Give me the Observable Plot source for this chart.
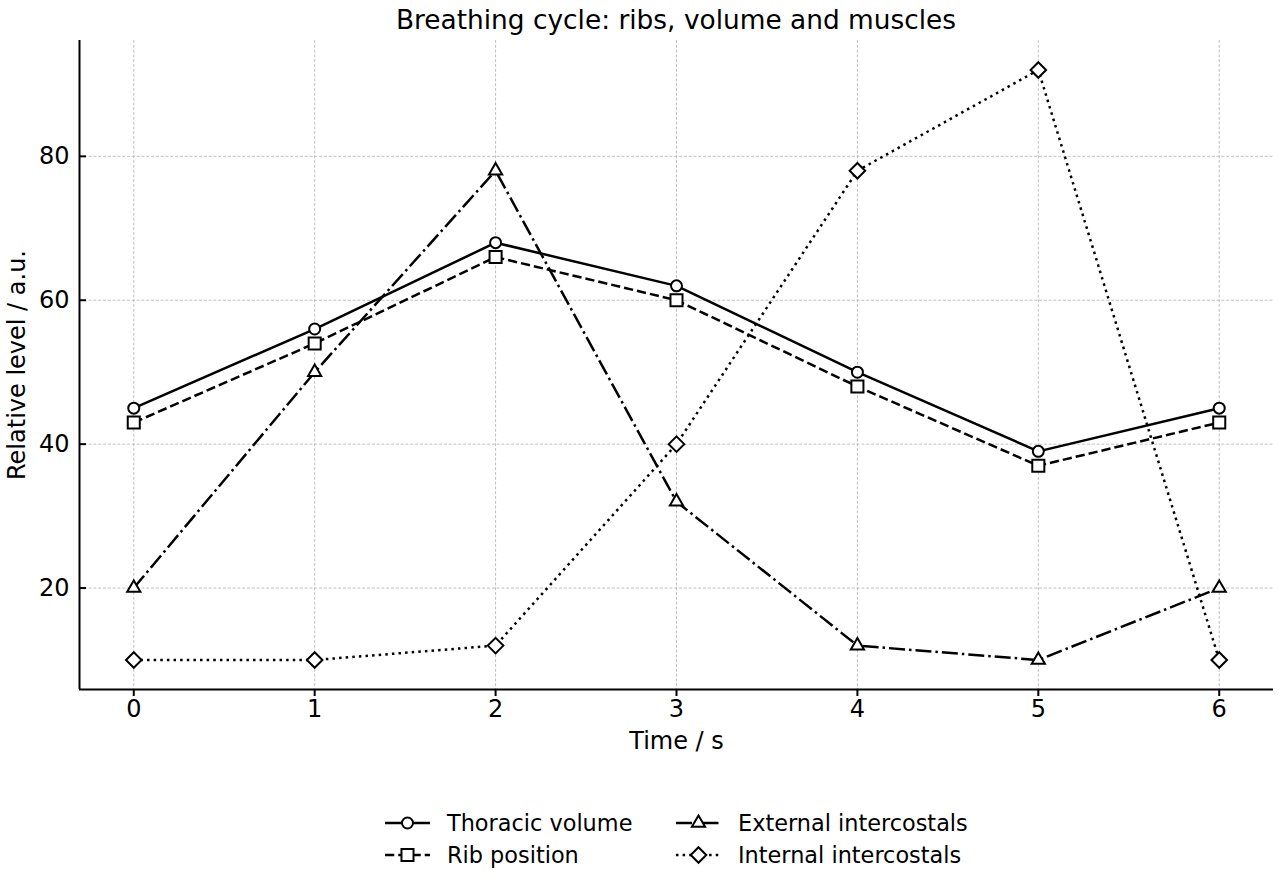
<!DOCTYPE html>
<html>
<head>
<meta charset="utf-8">
<script src="https://cdn.jsdelivr.net/npm/d3@7"></script>
<script src="https://cdn.jsdelivr.net/npm/@observablehq/plot@0.6"></script>
<style>
  body { margin: 0; background: #fff; font-family: "DejaVu Sans", sans-serif; color: #000; }
  #title { position: relative; width: 1280px; height: 40px; }
  #title span { position: absolute; left: 676px; top: 19px; transform: translate(-50%, -50%);
                font-size: 26.4px; white-space: nowrap; }
  #legend svg { display: block; }
</style>
</head>
<body>
<div id="title"><span>Breathing cycle: ribs, volume and muscles</span></div>
<div id="chart"></div>
<div id="legend"></div>
<script>
// Sampled breathing cycle, relative levels over time
const time = [0, 1, 2, 3, 4, 5, 6];
const thoracicVolume = [45, 56, 68, 62, 50, 39, 45];
const ribPosition = [43, 54, 66, 60, 48, 37, 43];
const externalIntercostals = [20, 50, 78, 32, 12, 10, 20];
const internalIntercostals = [10, 10, 12, 40, 78, 92, 10];

const seriesNames = ["Thoracic volume", "Rib position", "External intercostals", "Internal intercostals"];
const xTicks = [0, 1, 2, 3, 4, 5, 6];
const yTicks = [20, 40, 60, 80];
const xLabel = "Time / s";
const yLabel = "Relative level / a.u.";

// Line and marker style for each series
const LW = 2.5;
const styles = [
  {dash: null, symbol: "circle", r: 5.5},
  {dash: [3.7, 1.6].map(d => d * LW).join(","), symbol: "square", r: 6.8},
  {dash: [6.4, 1.6, 1, 1.6].map(d => d * LW).join(","), symbol: "triangle", r: 4.9},
  {dash: [1, 1.65].map(d => d * LW).join(","), symbol: "diamond2", r: 7.0}
];

const valuesBySeries = [thoracicVolume, ribPosition, externalIntercostals, internalIntercostals];
const rows = seriesNames.map((name, i) => time.map((t, j) => ({series: name, t, v: valuesBySeries[i][j]})));

// Axis domains with a 5% margin around the data
const allValues = valuesBySeries.flat();
const yMin = d3.min(allValues), yMax = d3.max(allValues);
const yPad = (yMax - yMin) * 0.05;
const yDomain = [yMin - yPad, yMax + yPad];
const xPad = (d3.max(time) - d3.min(time)) * 0.05;
const xDomain = [d3.min(time) - xPad, d3.max(time) + xPad];

const gridStyle = {stroke: "#b0b0b0", strokeOpacity: 1, strokeWidth: 0.8, strokeDasharray: "3,1.8"};

const seriesMarks = rows.flatMap((data, i) => [
  Plot.line(data, {x: "t", y: "v", stroke: "black", strokeWidth: LW, strokeDasharray: styles[i].dash,
                   strokeLinecap: "butt", strokeLinejoin: "round"}),
  Plot.dot(data, {x: "t", y: "v", symbol: () => styles[i].symbol, r: styles[i].r,
                  fill: "white", stroke: "black", strokeWidth: 2})
]);

const chart = Plot.plot({
  width: 1280,
  height: 740,
  marginTop: 0,
  marginLeft: 79,
  marginRight: 7,
  marginBottom: 91,
  style: {fontFamily: "DejaVu Sans", fontSize: "24px", color: "black", background: "white", overflow: "visible"},
  x: {domain: xDomain},
  y: {domain: yDomain},
  symbol: {type: "identity"},
  marks: [
    Plot.gridX(xTicks, gridStyle),
    Plot.gridY(yTicks, gridStyle),
    ...seriesMarks,
    Plot.ruleX([xDomain[0]], {stroke: "black", strokeWidth: 2}),
    Plot.ruleY([yDomain[0]], {stroke: "black", strokeWidth: 2}),
    Plot.axisX(xTicks, {tickSize: 7, tickPadding: 3, strokeWidth: 2, label: null, fontSize: 24, tickFormat: d3.format("d")}),
    Plot.axisY(yTicks, {tickSize: -7, tickPadding: 17, strokeWidth: 2, label: null, fontSize: 24, tickFormat: d3.format("d")}),
    Plot.text([xLabel], {frameAnchor: "bottom", dy: 52, lineAnchor: "middle", fontSize: 24, fill: "black"}),
    Plot.text([yLabel], {frameAnchor: "left", dx: -62, rotate: -90, textAnchor: "middle", lineAnchor: "middle", fontSize: 24, fill: "black"})
  ]
});
document.getElementById("chart").appendChild(chart);

// Legend: two columns of line + marker samples
const legendPos = [
  {x: 385, y: 43}, {x: 385, y: 75}, {x: 676, y: 43}, {x: 676, y: 75}
];
const svg = d3.select("#legend").append("svg").attr("width", 1280).attr("height", 100);
const symbolType = {circle: d3.symbolCircle, square: d3.symbolSquare, triangle: d3.symbolTriangle, diamond2: d3.symbolDiamond2};
seriesNames.forEach((name, i) => {
  const {x, y} = legendPos[i];
  const g = svg.append("g").attr("transform", `translate(${x},${y})`);
  g.append("line").attr("x1", 0).attr("x2", 45).attr("y1", 0).attr("y2", 0)
    .attr("stroke", "black").attr("stroke-width", LW)
    .attr("stroke-dasharray", styles[i].dash);
  g.append("path")
    .attr("d", d3.symbol(symbolType[styles[i].symbol], Math.PI * styles[i].r * styles[i].r)())
    .attr("transform", "translate(22.5,0)")
    .attr("fill", "white").attr("stroke", "black").attr("stroke-width", 2);
  g.append("text").attr("x", 62).attr("y", 0).attr("dy", "0.35em")
    .attr("font-family", "DejaVu Sans").attr("font-size", 22.4).attr("fill", "black").text(name);
});
</script>
</body>
</html>
